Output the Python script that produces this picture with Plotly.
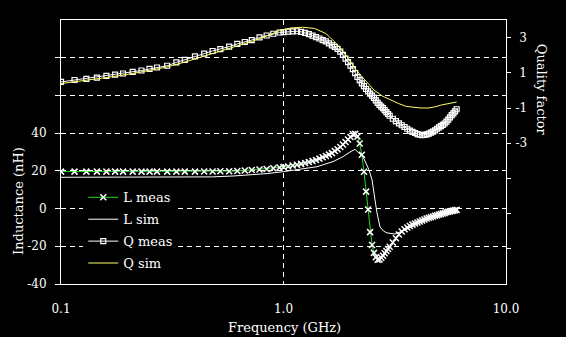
import plotly.graph_objects as go

# ---------------- data ----------------
freq_meas = [0.10, 0.115, 0.13, 0.145, 0.16, 0.175, 0.19, 0.21, 0.23, 0.25,
             0.27, 0.30, 0.33, 0.36, 0.40, 0.44, 0.48, 0.52, 0.57, 0.62,
             0.67, 0.72, 0.78, 0.84, 0.90, 0.96,
             1.00, 1.05, 1.10, 1.15, 1.20, 1.25, 1.30, 1.35, 1.40, 1.45,
             1.50, 1.55, 1.60, 1.65, 1.70, 1.75, 1.80, 1.85, 1.90, 1.95,
             2.00, 2.05, 2.10, 2.15, 2.20, 2.25, 2.30, 2.35, 2.40, 2.45,
             2.50, 2.55, 2.60, 2.65, 2.70, 2.75, 2.80, 2.85, 2.90, 2.95,
             3.00, 3.10, 3.20, 3.30, 3.40, 3.50, 3.60, 3.70, 3.80, 3.90,
             4.00, 4.10, 4.20, 4.30, 4.40, 4.50, 4.60, 4.70, 4.80, 4.90,
             5.00, 5.10, 5.20, 5.30, 5.40, 5.50, 5.60, 5.70, 5.80, 5.90,
             6.00]

L_meas = [19.6, 19.6, 19.6, 19.6, 19.6, 19.6, 19.6, 19.6, 19.6, 19.6,
          19.6, 19.6, 19.6, 19.6, 19.6, 19.7, 19.7, 19.8, 19.8, 19.9,
          20.2, 20.5, 20.7, 21.0, 21.4, 21.8,
          22.0, 22.3, 22.8, 23.2, 23.7, 24.2, 24.7, 25.2, 25.8, 26.5,
          27.2, 27.9, 28.6, 29.4, 30.5, 31.5, 32.7, 34.0, 35.3, 36.6,
          38.0, 39.4, 39.6, 38.2, 34.5, 28.5, 19.5, 9.0, -0.5, -12.5,
          -19.3, -23.5, -25.8, -27.1, -27.0, -26.1, -25.0, -23.7, -22.5, -21.4,
          -20.2, -18.0, -15.7, -13.7, -12.2, -11.0, -10.0, -9.2, -8.5, -7.9,
          -7.4, -6.9, -6.3, -5.8, -5.3, -4.9, -4.6, -4.2, -3.8, -3.5,
          -3.2, -2.9, -2.6, -2.3, -2.0, -1.7, -1.5, -1.3, -1.1, -0.9,
          -0.7]

Q_meas = [0.48, 0.59, 0.65, 0.73, 0.82, 0.90, 0.96, 1.05, 1.13, 1.22,
          1.30, 1.40, 1.59, 1.73, 1.93, 2.09, 2.24, 2.35, 2.49, 2.64,
          2.75, 2.86, 3.01, 3.12, 3.22, 3.29,
          3.31, 3.34, 3.35, 3.36, 3.33, 3.27, 3.20, 3.11, 3.03, 2.95,
          2.86, 2.78, 2.67, 2.56, 2.47, 2.36, 2.20, 2.02, 1.81, 1.61,
          1.41, 1.21, 0.98, 0.76, 0.58, 0.40, 0.24, 0.08, -0.05, -0.18,
          -0.30, -0.43, -0.57, -0.71, -0.82, -0.92, -1.01, -1.12, -1.23, -1.34,
          -1.44, -1.61, -1.75, -1.87, -1.98, -2.08, -2.18, -2.28, -2.36, -2.42,
          -2.48, -2.52, -2.54, -2.53, -2.50, -2.46, -2.40, -2.34, -2.27, -2.18,
          -2.10, -2.03, -1.96, -1.88, -1.77, -1.66, -1.53, -1.41, -1.31, -1.19,
          -1.07]

freq_L_sim = [0.10, 0.20, 0.30, 0.40, 0.48, 0.60, 0.707, 0.85, 1.00, 1.20,
              1.414, 1.669, 1.85, 1.99, 2.096, 2.18, 2.277, 2.423, 2.50, 2.578,
              2.632, 2.715, 2.82, 2.919, 3.05, 3.17, 3.34, 3.60, 4.00, 4.50,
              5.00, 5.50, 6.00]
L_sim = [16.6, 16.6, 16.7, 16.8, 16.8, 17.3, 17.8, 18.6, 19.6, 20.8,
         22.2, 24.9, 27.5, 30.0, 31.4, 29.5, 27.5, 20.5, 15.2, 4.6,
         -2.3, -9.8, -12.0, -12.9, -13.4, -13.5, -12.4, -10.8, -8.0, -5.6,
         -3.8, -2.4, -1.3]

freq_Q_sim = [0.10, 0.13, 0.16, 0.21, 0.25, 0.30, 0.36, 0.44, 0.52, 0.62,
              0.72, 0.84, 0.96, 1.08, 1.22, 1.38, 1.55, 1.73, 1.92, 2.12,
              2.33, 2.55, 2.78, 3.02, 3.28, 3.56, 3.85, 4.15, 4.46, 4.78,
              5.12, 5.48, 5.85, 6.00]
Q_sim = [0.39, 0.56, 0.73, 0.96, 1.16, 1.33, 1.61, 1.95, 2.24, 2.52,
         2.78, 3.09, 3.40, 3.55, 3.59, 3.52, 3.23, 2.66, 1.95, 1.16,
         0.56, 0.02, -0.32, -0.55, -0.74, -0.91, -0.97, -1.00, -1.00, -0.94,
         -0.83, -0.74, -0.69, -0.66]

x_tickvals = [0.1, 1, 10]
x_ticktext = ["0.1", "1.0", "10.0"]
yL_tickvals = [-40, -20, 0, 20, 40, 60, 80]
yL_ticktext = ["-40", "-20", "0", "20", "40", "", ""]
yQ_tickvals = [-9, -7, -5, -3, -1, 1, 3]
yQ_ticktext = ["", "", "", "-3", "-1", "\u00a01", "\u00a03"]

series_names = ["L meas", "L sim", "Q meas", "Q sim"]

# ---------------- figure ----------------
FONT = "DejaVu Serif"
fig = go.Figure()

fig.add_trace(go.Scatter(
    x=freq_meas, y=L_meas, name=series_names[0], legendgroup="a",
    mode="lines+markers",
    line=dict(color="#22dd22", width=1),
    marker=dict(symbol="x-thin-open", size=6, color="white",
                line=dict(color="white", width=1.5)),
    yaxis="y"))
fig.add_trace(go.Scatter(
    x=freq_L_sim, y=L_sim, name=series_names[1], legendgroup="b",
    mode="lines", line=dict(color="white", width=1), yaxis="y"))
fig.add_trace(go.Scatter(
    x=freq_meas, y=Q_meas, name=series_names[2], legendgroup="c",
    mode="lines+markers",
    line=dict(color="white", width=1),
    marker=dict(symbol="square-open", size=5, color="white",
                line=dict(color="white", width=1.2)),
    yaxis="y2"))
fig.add_trace(go.Scatter(
    x=freq_Q_sim, y=Q_sim, name=series_names[3], legendgroup="d",
    mode="lines", line=dict(color="#ffff66", width=1), yaxis="y2"))

grid = dict(gridcolor="white", gridwidth=1, griddash="5px,4px")

fig.update_layout(
    width=566, height=337,
    margin=dict(l=61, r=60, t=20, b=53, pad=0),
    paper_bgcolor="black", plot_bgcolor="black",
    font=dict(family=FONT, size=12, color="white"),
    showlegend=True,
    legend=dict(x=0.05, y=0.385, xanchor="left", yanchor="top",
                bgcolor="black", borderwidth=0,
                font=dict(family=FONT, size=13, color="white"),
                tracegroupgap=2, itemwidth=30),
    xaxis=dict(type="log", range=[-1, 1],
               tickvals=x_tickvals, ticktext=x_ticktext,
               ticks="", showline=True, linecolor="white", linewidth=1,
               mirror=True, showgrid=True, zeroline=False,
               ticklabelstandoff=14,
               tickfont=dict(family=FONT, size=12, color="white"), **grid),
    yaxis=dict(range=[-40, 100], tickvals=yL_tickvals, ticktext=yL_ticktext,
               ticks="outside", ticklen=5, tickcolor="white",
               showline=True, linecolor="white", linewidth=1,
               showgrid=True, zeroline=False, ticklabelstandoff=6,
               tickfont=dict(family=FONT, size=12, color="white"), **grid),
    yaxis2=dict(range=[-11, 4], overlaying="y", side="right",
                tickvals=yQ_tickvals, ticktext=yQ_ticktext,
                ticks="outside", ticklen=4, tickcolor="white",
                showline=True, linecolor="white", linewidth=1,
                showgrid=False, zeroline=False, ticklabelstandoff=2,
                tickfont=dict(family=FONT, size=12, color="white")),
    annotations=[
        dict(text="Frequency (GHz)", xref="paper", yref="paper",
             x=0.503, y=-0.165, xanchor="center", yanchor="middle",
             showarrow=False, font=dict(family=FONT, size=13, color="white")),
        dict(text="Inductance (nH)", xref="paper", yref="paper",
             x=-0.097, y=0.314, xanchor="center", yanchor="middle",
             textangle=-90, showarrow=False,
             font=dict(family=FONT, size=13, color="white")),
        dict(text="Quality factor", xref="paper", yref="paper",
             x=1.079, y=0.735, xanchor="center", yanchor="middle",
             textangle=90, showarrow=False,
             font=dict(family=FONT, size=13, color="white")),
    ],
)

fig.write_html("out.html")
